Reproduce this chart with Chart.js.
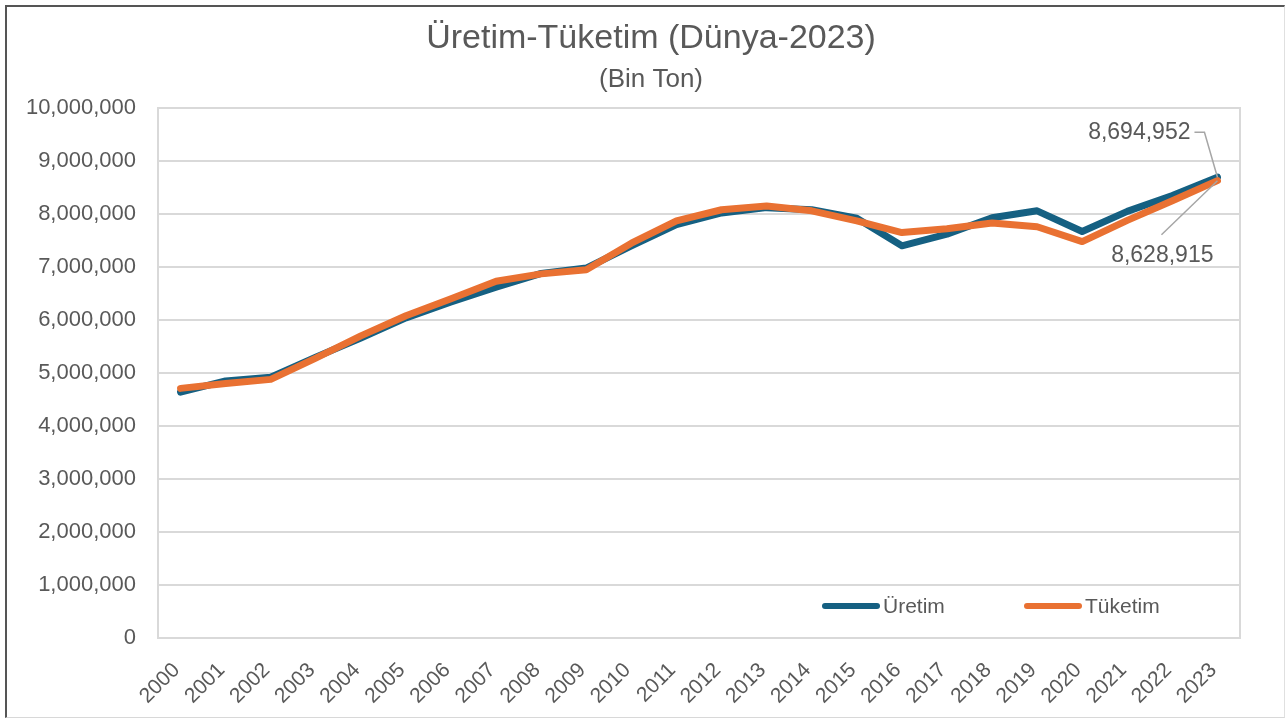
<!DOCTYPE html>
<html>
<head>
<meta charset="utf-8">
<script src="https://cdn.jsdelivr.net/npm/chart.js@4.4.1/dist/chart.umd.min.js"></script>
<style>
  html, body { margin: 0; padding: 0; background: #fff; overflow: hidden; }
  #wrap { position: relative; width: 1287px; height: 720px; }
  #frame { position: absolute; left: 5px; top: 5px; width: 1280px; height: 713px; border-left: 2px solid #555; border-top: 2px solid #555; border-right: 1px solid #e0e0e0; border-bottom: 1px solid #d8d8d8; box-sizing: border-box; pointer-events: none; }
</style>
</head>
<body>
<div id="wrap">
  <canvas id="c" width="1287" height="720"></canvas>
  <div id="frame"></div>
</div>
<script>
const years = ['2000','2001','2002','2003','2004','2005','2006','2007','2008','2009','2010','2011','2012','2013','2014','2015','2016','2017','2018','2019','2020','2021','2022','2023'];
const uretim = [4640000,4850000,4920000,5300000,5660000,6040000,6340000,6620000,6880000,6980000,7400000,7800000,8020000,8120000,8080000,7920000,7400000,7620000,7930000,8060000,7670000,8050000,8350000,8694952];
const tuketim = [4710000,4800000,4880000,5280000,5700000,6080000,6400000,6730000,6870000,6950000,7450000,7870000,8080000,8150000,8060000,7870000,7650000,7720000,7830000,7760000,7480000,7880000,8250000,8628915];
const seriesNames = ['Üretim','Tüketim'];
const colors = ['#156082','#E97132'];
const titleText = 'Üretim-Tüketim (Dünya-2023)';
const subtitleText = '(Bin Ton)';
const yMax = 10000000;
const yStep = 1000000;

const FONT = '"Liberation Sans", Arial, sans-serif';
const TXT = '#595959';

const extras = {
  id: 'extras',
  beforeDatasetsDraw(chart) {
    const {ctx, chartArea: a} = chart;
    ctx.save();
    ctx.strokeStyle = '#d9d9d9';
    ctx.lineWidth = 2;
    ctx.strokeRect(a.left, a.top, a.right - a.left, a.bottom - a.top);
    // titles
    ctx.fillStyle = TXT;
    ctx.textAlign = 'center';
    ctx.textBaseline = 'middle';
    ctx.font = '34px ' + FONT;
    ctx.fillText(titleText, 651, 38.5);
    ctx.font = '26px ' + FONT;
    ctx.fillText(subtitleText, 651, 79.5);
    ctx.restore();
  },
  afterDatasetsDraw(chart) {
    const {ctx} = chart;
    const xs = chart.scales.x, ys = chart.scales.y;
    const last = years.length - 1;
    const px = xs.getPixelForValue(last);
    const pyU = ys.getPixelForValue(uretim[last]);
    const pyT = ys.getPixelForValue(tuketim[last]);
    ctx.save();
    ctx.font = '23px ' + FONT;
    ctx.fillStyle = TXT;
    ctx.textBaseline = 'middle';
    ctx.textAlign = 'right';
    ctx.fillText(uretim[last].toLocaleString('en-US'), px - 27, pyU - 45);
    ctx.fillText(tuketim[last].toLocaleString('en-US'), px - 4, pyT + 75);
    ctx.strokeStyle = '#a6a6a6';
    ctx.lineWidth = 1.5;
    ctx.beginPath();
    ctx.moveTo(px - 23, pyU - 45);
    ctx.lineTo(px - 13, pyU - 45);
    ctx.lineTo(px, pyU);
    ctx.stroke();
    ctx.beginPath();
    ctx.moveTo(px - 56, pyT + 54);
    ctx.lineTo(px, pyT);
    ctx.stroke();

    // legend
    const a = chart.chartArea;
    const ly = a.bottom - 32;
    const items = [{x: 822, name: seriesNames[0], c: colors[0]}, {x: 1024, name: seriesNames[1], c: colors[1]}];
    ctx.font = '21px ' + FONT;
    ctx.textAlign = 'left';
    items.forEach(it => {
      ctx.strokeStyle = it.c;
      ctx.lineWidth = 6;
      ctx.lineCap = 'round';
      ctx.beginPath();
      ctx.moveTo(it.x + 3, ly);
      ctx.lineTo(it.x + 55, ly);
      ctx.stroke();
      ctx.fillStyle = TXT;
      ctx.fillText(it.name, it.x + 61, ly + 1);
    });
    ctx.restore();
  }
};

new Chart(document.getElementById('c'), {
  type: 'line',
  data: {
    labels: years,
    datasets: [
      {label: seriesNames[0], data: uretim, borderColor: colors[0], backgroundColor: colors[0], borderWidth: 7, pointRadius: 0, tension: 0, order: 1, borderJoinStyle: 'round', borderCapStyle: 'round'},
      {label: seriesNames[1], data: tuketim, borderColor: colors[1], backgroundColor: colors[1], borderWidth: 7, pointRadius: 0, tension: 0, order: 0, borderJoinStyle: 'round', borderCapStyle: 'round'}
    ]
  },
  options: {
    responsive: false,
    animation: false,
    layout: {padding: {left: 0, right: 47, top: 108, bottom: 0}},
    plugins: {
      legend: {display: false},
      tooltip: {enabled: false},
      title: {display: false},
      subtitle: {display: false}
    },
    scales: {
      x: {
        offset: true,
        grid: {display: false},
        border: {display: false},
        ticks: {color: TXT, font: {family: FONT, size: 21}, minRotation: 45, maxRotation: 45, autoSkip: false, padding: 12, labelOffset: -4},
        afterFit(s) { s.height = 82; }
      },
      y: {
        min: 0, max: yMax,
        grid: {color: '#d9d9d9', lineWidth: 2, drawTicks: false},
        border: {display: false},
        ticks: {stepSize: yStep, color: TXT, font: {family: FONT, size: 22}, padding: 22,
          callback: v => v.toLocaleString('en-US')},
        afterFit(s) { s.width = 158; }
      }
    }
  },
  plugins: [extras]
});
</script>
</body>
</html>
